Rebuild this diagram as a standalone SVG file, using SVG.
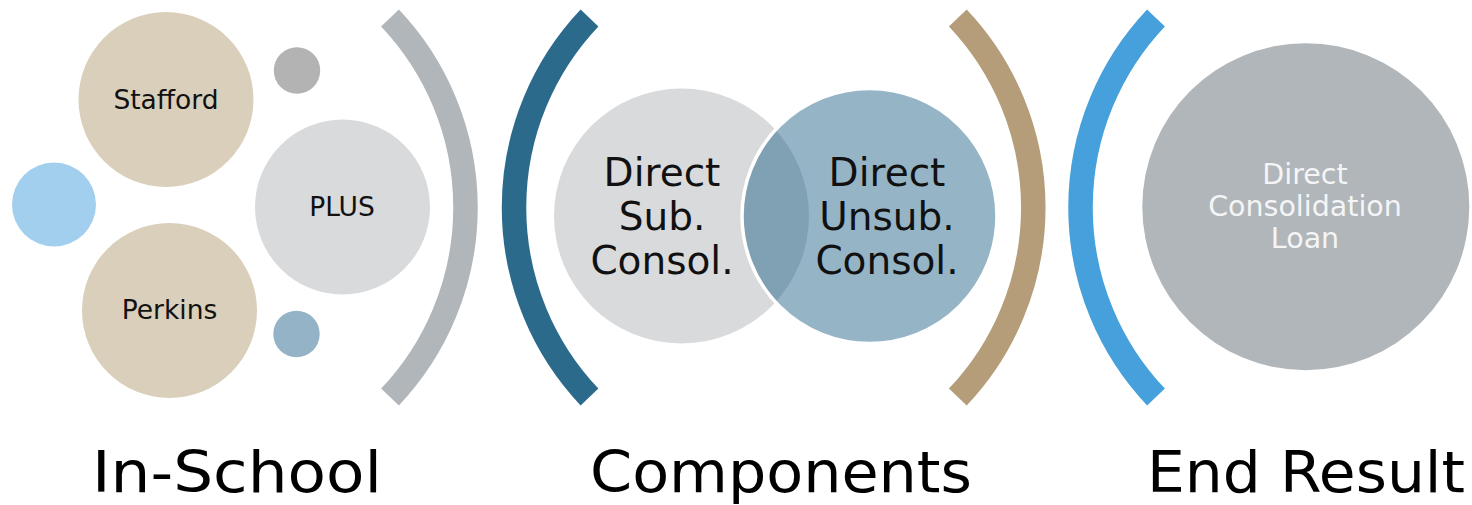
<svg xmlns="http://www.w3.org/2000/svg" width="1472" height="505" viewBox="0 0 1472 505">
  <style>
    .lbl { font-family: "DejaVu Sans", "Liberation Sans", sans-serif; fill: #111111; text-anchor: middle; }
    .small { font-size: 26.5px; }
    .venn { font-size: 39px; }
    .result { font-size: 28.5px; fill: #f4f5f6; }
    .stage { font-size: 57px; fill: #000000; }
    .bracket { fill: none; stroke-width: 24.5; stroke-linecap: butt; }
  </style>
  <rect width="1472" height="505" fill="#ffffff"/>

  <!-- In-School loan types -->
  <g id="stafford">
    <circle cx="166" cy="99.5" r="87.5" fill="#d9cfba"/>
    <text class="lbl small" x="166" y="109.3">Stafford</text>
  </g>
  <g id="perkins">
    <circle cx="169.5" cy="310.5" r="87.5" fill="#d9cfba"/>
    <text class="lbl small" x="169.5" y="319.3">Perkins</text>
  </g>
  <g id="plus">
    <circle cx="342.5" cy="207" r="87.5" fill="#d9dadc"/>
    <text class="lbl small" x="342" y="216">PLUS</text>
  </g>
  <g id="dot-blue">
    <circle cx="54" cy="204.5" r="42" fill="#a3cfee"/>
  </g>
  <g id="dot-gray">
    <circle cx="297" cy="70.5" r="23.2" fill="#b3b3b3"/>
  </g>
  <g id="dot-steel">
    <circle cx="296.5" cy="334" r="23.2" fill="#94b3c6"/>
  </g>

  <!-- Bracket arcs separating the stages -->
  <g id="brackets">
    <path class="bracket" stroke="#b1b6ba" d="M390,18 A275.6,275.6 0 0 1 390,397"/>
    <path class="bracket" stroke="#2c6a8b" d="M589.5,18 A275.6,275.6 0 0 0 589.5,397"/>
    <path class="bracket" stroke="#b59d79" d="M957.8,18 A275.6,275.6 0 0 1 957.8,397"/>
    <path class="bracket" stroke="#46a0dc" d="M1156,18 A275.6,275.6 0 0 0 1156,397"/>
  </g>

  <!-- Components: overlapping pair -->
  <g id="sub-consol">
    <circle cx="681.5" cy="216" r="127.5" fill="#d9dadc"/>
  </g>
  <g id="unsub-consol">
    <circle cx="869.5" cy="216" r="127.5" fill="#145c82" fill-opacity="0.45" stroke="#ffffff" stroke-width="3.5"/>
  </g>
  <g id="component-labels">
    <text class="lbl venn" x="662" y="186">Direct</text>
    <text class="lbl venn" x="662" y="230">Sub.</text>
    <text class="lbl venn" x="662" y="274">Consol.</text>
    <text class="lbl venn" x="887" y="186">Direct</text>
    <text class="lbl venn" x="887" y="230">Unsub.</text>
    <text class="lbl venn" x="887" y="274">Consol.</text>
  </g>

  <!-- End result -->
  <g id="consolidation-loan">
    <circle cx="1305.8" cy="206.7" r="163.5" fill="#b1b6ba"/>
    <text class="lbl result" x="1305" y="184">Direct</text>
    <text class="lbl result" x="1305" y="216">Consolidation</text>
    <text class="lbl result" x="1305" y="248.3">Loan</text>
  </g>

  <!-- Stage captions -->
  <g id="captions">
    <text class="lbl stage" x="237" y="492" textLength="290" lengthAdjust="spacingAndGlyphs">In-School</text>
    <text class="lbl stage" x="781" y="492" textLength="382" lengthAdjust="spacingAndGlyphs">Components</text>
    <text class="lbl stage" x="1306" y="492" textLength="318" lengthAdjust="spacingAndGlyphs">End Result</text>
  </g>
</svg>
